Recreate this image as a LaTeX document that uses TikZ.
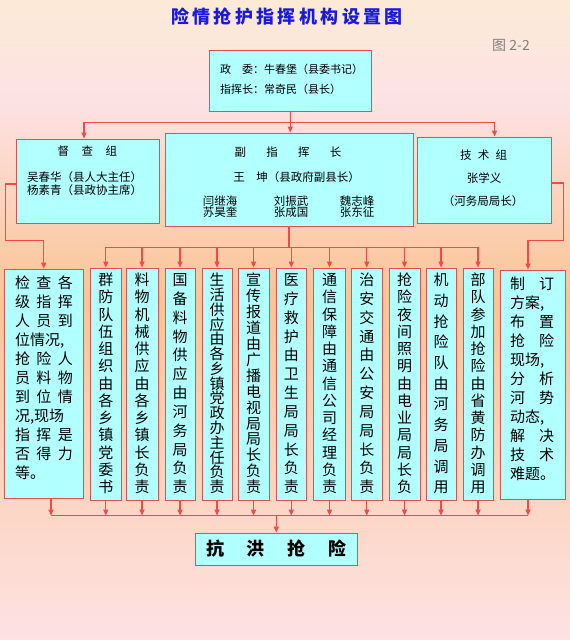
\documentclass[tikz,border=0pt]{standalone}
\usepackage{fontspec}
\setmainfont{Noto Sans CJK SC}
\usetikzlibrary{arrows.meta}

\definecolor{boxfill}{RGB}{178,255,255}
\definecolor{boxline}{RGB}{214,84,84}
\definecolor{linkred}{RGB}{245,72,72}
\definecolor{titleblue}{RGB}{25,25,225}
\definecolor{bgpeach}{RGB}{252,234,214}
\definecolor{bgpink}{RGB}{253,226,228}
\definecolor{bgorange}{RGB}{250,196,148}

% 竖排文字: 每字一行, 均匀分布
\makeatletter
\newcommand\colchars[1]{\vbox to 232pt{\offinterlineskip\vskip 17.7pt
    \@tfor\ch:=#1\do{\hbox to 16pt{\hss\smash{\ch}\hss}\vfill}\unskip\vskip 7.3pt}}
\makeatother

\tikzset{
  box/.style={draw=boxline, fill=boxfill, line width=0.9pt, inner sep=0pt},
  link/.style={draw=linkred, line width=1.1pt},
  arr/.style={link, -{Triangle[length=6pt,width=5pt]}},
  txt/.style={inner sep=0pt, font=\fontsize{11.5}{13}\selectfont},
  wtext/.style={inner sep=0pt, align=left, font=\fontsize{15}{19}\selectfont},
}

\begin{document}
\begin{tikzpicture}[x=1pt, y=-1pt]
  % 背景
  \useasboundingbox (0,0) rectangle (570,640);
  \shade[top color=bgpeach, bottom color=bgpink] (0,0) rectangle (570,100);
  \shade[top color=bgpink, bottom color=bgorange] (0,100) rectangle (570,300);
  \shade[top color=bgorange, bottom color=bgpink] (0,300) rectangle (570,640);

  % 标题
  \node[font=\bfseries\fontsize{18}{18}\selectfont, text=titleblue] (title) at (287,17)
    {\makebox[232pt][s]{险 情 抢 护 指 挥 机 构 设 置 图}};
  \node[text=gray, font=\fontsize{14}{14}\selectfont] (fig) at (511,45) {图 2-2};

  % 指挥部
  \node[box, minimum width=161.5pt, minimum height=61pt] (zhihui) at (290.25,80.5) {};
  \node[txt, font=\fontsize{11}{13}\selectfont, anchor=west] (zw) at (220,69)
    {\makebox[33pt][s]{政 委}：牛春堡（县委书记）};
  \node[txt, font=\fontsize{11}{13}\selectfont, anchor=west] (zh) at (220,89)
    {指挥长：常奇民（县长）};

  % 督查组
  \node[box, minimum width=143pt, minimum height=84pt] (ducha) at (87.5,181) {};
  \node[txt] (dt) at (87.3,151) {\makebox[59.5pt][s]{督 查 组}};
  \node[txt, anchor=west, align=left] (dm) at (27,183.5)
    {吴春华（县人大主任）\\杨素青（县政协主席）};

  % 副指挥长
  \node[box, minimum width=248pt, minimum height=93pt] (fu) at (289,179.5) {};
  \node[txt] (ft) at (288,152) {\makebox[107pt][s]{副 指 挥 长}};
  \node[txt] (fw) at (296.5,177) {王\hspace{1em}坤（县政府副县长）};
  \node[txt, align=center, font=\fontsize{11.5}{11.5}\selectfont] (n1) at (220,206.5) {闫继海\\苏昊奎};
  \node[txt, align=center, font=\fontsize{11.5}{11.5}\selectfont] (n2) at (291,206.5) {刘振武\\张成国};
  \node[txt, align=center, font=\fontsize{11.5}{11.5}\selectfont] (n3) at (357,206.5) {魏志峰\\张东征};

  % 技术组
  \node[box, minimum width=133.5pt, minimum height=86pt] (jishu) at (484.25,180) {};
  \node[txt] (jt) at (483.6,155) {\makebox[47pt][s]{技 术 组}};
  \node[txt] (jn) at (484,178) {张学义};
  \node[txt] (jj) at (483,201) {（河务局局长）};

  % 各项任务
  \node[box, minimum width=78.6pt, minimum height=229pt] (b0) at (43.7,383.5) {};
  \node[wtext] (b0t) at (44,378) {\makebox[58pt][s]{检 查 各}\\\makebox[58pt][s]{级 指 挥}\\
    \makebox[58pt][s]{人 员 到}\\位情况,\\\makebox[58pt][s]{抢 险 人}\\\makebox[58pt][s]{员 料 物}\\
    \makebox[58pt][s]{到 位 情}\\况,现场\\\makebox[58pt][s]{指 挥 是}\\\makebox[58pt][s]{否 得 力}\\等。};
  \foreach \i/\x/\w/\t in {1/105.75/30.5/群防队伍组织由各乡镇党委书,
      2/142/32/料物机械供应由各乡镇长负责, 3/180/30/国备料物供应由河务局负责,
      4/217/30/生活供应由各乡镇党政办主任负责, 5/253.5/31/宣传报道由广播电视局局长负责,
      6/291.25/30.5/医疗救护由卫生局局长负责, 7/329.5/32/通信保障由通信公司经理负责,
      8/366.75/30.5/治安交通由公安局局长负责, 9/404.5/31/抢险夜间照明由电业局局长负,
      10/441/30/机动抢险队由河务局调用, 11/478/30/部队参加抢险由省黄防办调用}
    \node[box, minimum width=\w, minimum height=232pt, font=\fontsize{15}{15}\selectfont]
      (b\i) at (\x,384) {\expandafter\colchars\expandafter{\t}};
  \node[box, minimum width=65pt, minimum height=229pt] (b12) at (532.5,384.5) {};
  \node[wtext] (b12t) at (532.7,379) {\makebox[44pt][s]{制 订}\\方案,\\\makebox[44pt][s]{布 置}\\
    \makebox[44pt][s]{抢 险}\\现场,\\\makebox[44pt][s]{分 析}\\\makebox[44pt][s]{河 势}\\
    动态,\\\makebox[44pt][s]{解 决}\\\makebox[44pt][s]{技 术}\\难题。};

  % 抗洪抢险
  \node[box, minimum width=162.5pt, minimum height=32pt, font=\bfseries\fontsize{18}{18}\selectfont]
    (kangxian) at (276.25,549) {\makebox[140pt][s]{抗 洪 抢 险}};

  % 连线
  \draw[link] (zhihui.south) -- ++(0,11) coordinate (bus1);
  \draw[arr] (bus1) -- (bus1 |- fu.north);
  \draw[arr] (bus1) -| ([xshift=-3.5pt]ducha.north);
  \draw[arr] (bus1) -| ([xshift=10.25pt]jishu.north);

  \draw[link] (fu.south) -- ++(0,21) coordinate (bus2);
  \draw[link] (bus2 -| b1.north) -- (bus2 -| b11.north);
  \foreach \i in {1,...,11}
    \draw[arr] (bus2 -| b\i.north) -- (b\i.north);
  \draw[arr] ([yshift=-3pt]ducha.west) -- ++(-10.5,0) |- ([yshift=28pt]b0.north) -- (b0.north);
  \draw[arr] ([yshift=-3pt]jishu.east) -- ++(12,0) |- ([xshift=-4.5pt,yshift=29pt]b12.north)
    -- ([xshift=-4.5pt]b12.north);

  \coordinate (bus3l) at (51,515.6);
  \coordinate (bus3r) at (528,515.6);
  \draw[link] (bus3l) -- (bus3r);
  \draw[arr] (b0.south -| bus3l) -- (bus3l);
  \draw[arr] (b12.south -| bus3r) -- (bus3r);
  \foreach \i in {1,...,11}
    \draw[arr] (b\i.south) -- (b\i.south |- bus3l);
  \draw[arr] (kangxian.north |- bus3l) -- (kangxian.north);
\end{tikzpicture}
\end{document}
